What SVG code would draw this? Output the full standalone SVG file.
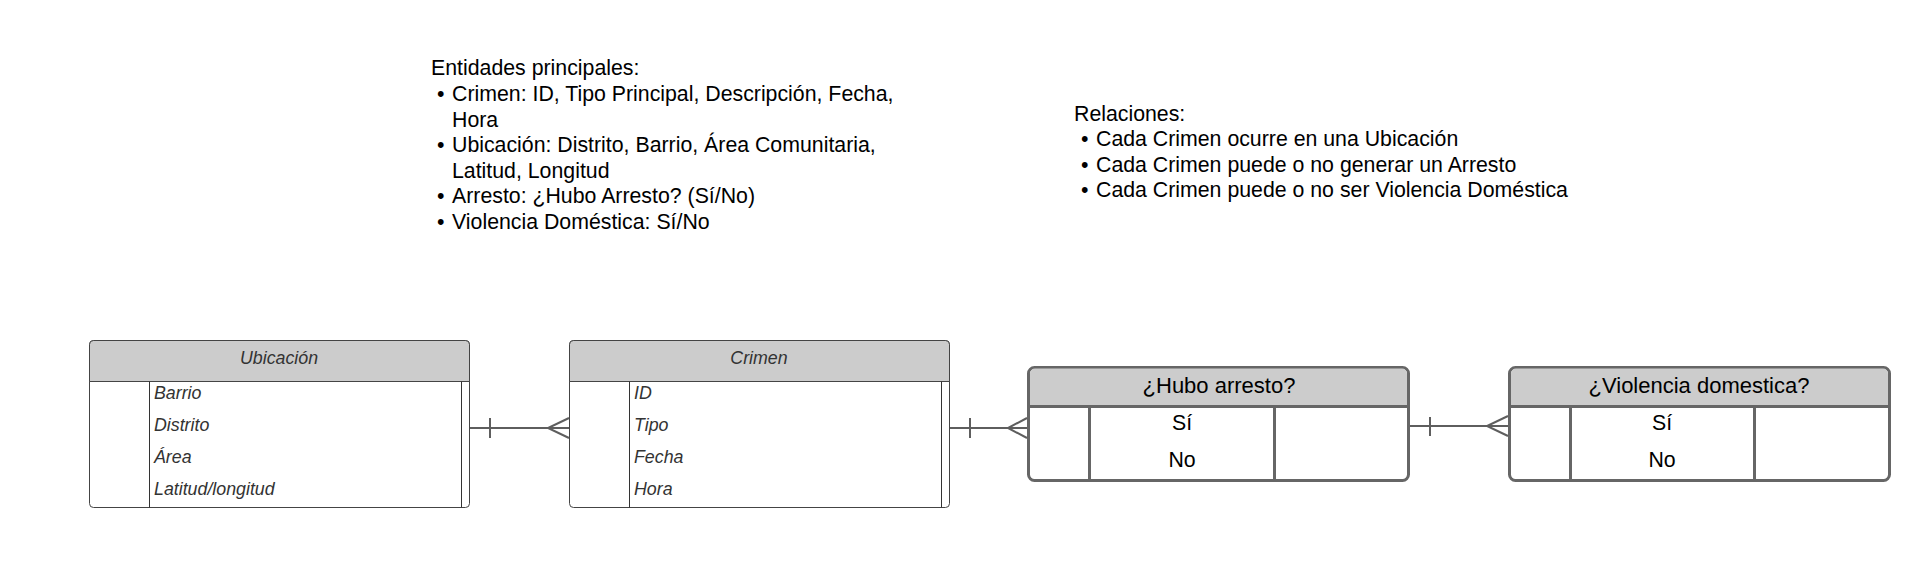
<svg xmlns="http://www.w3.org/2000/svg" width="1931" height="574" viewBox="0 0 1931 574">
<style>
.note{font-family:"Liberation Sans",Arial,sans-serif;font-size:21.3px;fill:#000}
.thead{font-family:"Liberation Sans",Arial,sans-serif;font-size:17.8px;font-style:italic;fill:#333;text-anchor:middle}
.trow{font-family:"Liberation Sans",Arial,sans-serif;font-size:17.8px;font-style:italic;fill:#333}
.tbox{fill:#fff;stroke:#444;stroke-width:1}
.thfill{fill:#ccc;stroke:#444;stroke-width:1}
.tline{stroke:#333;stroke-width:1;fill:none}
.bbox{fill:#fff;stroke:#666;stroke-width:3}
.bline{stroke:#666;stroke-width:3;fill:none}
.bhead{font-family:"Liberation Sans",Arial,sans-serif;font-size:22px;fill:#000;text-anchor:middle}
.bcell{font-family:"Liberation Sans",Arial,sans-serif;font-size:21.3px;fill:#000;text-anchor:middle}
.conn{stroke:#5e5e5e;stroke-width:2;fill:none}
</style>
<rect width="1931" height="574" fill="#fff"/>
<g id="notes-entidades">
<text class="note" x="431" y="75">Entidades principales:</text>
<text class="note" x="437" y="101">•</text><text class="note" x="452" y="101">Crimen: ID, Tipo Principal, Descripción, Fecha,</text>
<text class="note" x="452" y="127">Hora</text>
<text class="note" x="437" y="152">•</text><text class="note" x="452" y="152">Ubicación: Distrito, Barrio, Área Comunitaria,</text>
<text class="note" x="452" y="178">Latitud, Longitud</text>
<text class="note" x="437" y="203">•</text><text class="note" x="452" y="203">Arresto: ¿Hubo Arresto? (Sí/No)</text>
<text class="note" x="437" y="229">•</text><text class="note" x="452" y="229">Violencia Doméstica: Sí/No</text>
</g>
<g id="notes-relaciones">
<text class="note" x="1074" y="121">Relaciones:</text>
<text class="note" x="1081" y="146">•</text><text class="note" x="1096" y="146">Cada Crimen ocurre en una Ubicación</text>
<text class="note" x="1081" y="172">•</text><text class="note" x="1096" y="172">Cada Crimen puede o no generar un Arresto</text>
<text class="note" x="1081" y="197">•</text><text class="note" x="1096" y="197">Cada Crimen puede o no ser Violencia Doméstica</text>
</g>
<g id="ubicacion">
<rect class="tbox" x="89.5" y="340.5" width="380" height="167" rx="4"/>
<path class="thfill" d="M89.5,381.5 V344.5 a4,4 0 0 1 4,-4 H465.5 a4,4 0 0 1 4,4 V381.5 Z"/>
<path class="tline" d="M149.5,381.5 V507.5 M461.5,381.5 V507.5"/>
<text class="thead" x="279" y="364">Ubicación</text>
<text class="trow" x="154" y="399">Barrio</text>
<text class="trow" x="154" y="431">Distrito</text>
<text class="trow" x="154" y="463">Área</text>
<text class="trow" x="154" y="495">Latitud/longitud</text>
</g>
<g id="crimen">
<rect class="tbox" x="569.5" y="340.5" width="380" height="167" rx="4"/>
<path class="thfill" d="M569.5,381.5 V344.5 a4,4 0 0 1 4,-4 H945.5 a4,4 0 0 1 4,4 V381.5 Z"/>
<path class="tline" d="M629.5,381.5 V507.5 M941.5,381.5 V507.5"/>
<text class="thead" x="759" y="364">Crimen</text>
<text class="trow" x="634" y="399">ID</text>
<text class="trow" x="634" y="431">Tipo</text>
<text class="trow" x="634" y="463">Fecha</text>
<text class="trow" x="634" y="495">Hora</text>
</g>
<g id="arresto">
<rect class="bbox" x="1028.5" y="367.5" width="380" height="113" rx="6"/>
<path d="M1030,406.5 V373.5 a5,5 0 0 1 5,-5 H1402 a5,5 0 0 1 5,5 V406.5 Z" fill="#ccc"/>
<path class="bline" d="M1028.5,406.5 H1408.5 M1089.5,406.5 V480.5 M1274.5,406.5 V480.5"/>
<text class="bhead" x="1219" y="393">¿Hubo arresto?</text>
<text class="bcell" x="1182" y="430">Sí</text>
<text class="bcell" x="1182" y="467">No</text>
</g>
<g id="violencia">
<rect class="bbox" x="1509.5" y="367.5" width="380" height="113" rx="6"/>
<path d="M1511,406.5 V373.5 a5,5 0 0 1 5,-5 H1883 a5,5 0 0 1 5,5 V406.5 Z" fill="#ccc"/>
<path class="bline" d="M1509.5,406.5 H1889.5 M1570.5,406.5 V480.5 M1754.5,406.5 V480.5"/>
<text class="bhead" x="1699" y="393">¿Violencia domestica?</text>
<text class="bcell" x="1662" y="430">Sí</text>
<text class="bcell" x="1662" y="467">No</text>
</g>
<g id="connectors">
<path class="conn" d="M470,428 H569 M490,418 V438 M569,418 L548,428 L569,438"/>
<path class="conn" d="M950,428 H1027 M970,418 V438 M1027,418 L1008,428 L1027,438"/>
<path class="conn" d="M1410,426 H1508 M1430,417 V436 M1508,416 L1487,426 L1508,436"/>
</g>
</svg>
